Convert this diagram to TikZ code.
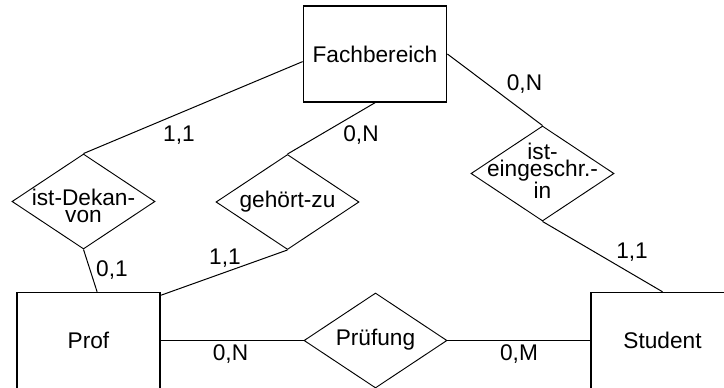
\documentclass[tikz,border=0pt]{standalone}
\usepackage{fontspec}
\setmainfont{Liberation Sans}
\usetikzlibrary{shapes.geometric}

\begin{document}
\begin{tikzpicture}[x=0.75pt,y=0.75pt,yscale=-1,xscale=1,
	entity/.style={draw, line width=1.1pt, minimum width=107.5pt, minimum height=72pt, inner sep=0pt, font=\fontsize{17}{20}\selectfont},
	relation/.style={draw, diamond, line width=0.7pt, minimum width=107.25pt, minimum height=71.25pt, inner sep=0pt},
	reltext/.style={align=center, inner sep=0pt, font=\fontsize{17}{12.5}\selectfont},
	card/.style={inner sep=0pt, font=\fontsize{17}{20}\selectfont},
	link/.style={line width=0.75pt}]
	%set diagram left start at 0, and has height of 388
	\useasboundingbox (0,0) rectangle (724,388);
	\clip (0,0) rectangle (724,388);
	
	%Shape: Rectangle [entities]
	\node[entity] (fach) at (375,54) {Fachbereich};
	\node[entity] (prof) at (88.5,340.5) {Prof};
	\node[entity] (student) at (662.5,340.5) {Student};
	
	%Shape: Diamond [relations]
	\node[relation] (dekan) at (83.5,201.5) {};
	\node[relation] (gehoert) at (287.5,202) {};
	\node[relation] (eingeschr) at (542.5,173.5) {};
	\node[relation] (pruefung) at (375.5,340.5) {};
	
	% Text Node
	\node[reltext] (dekantext) at (83.5,206) {ist-Dekan-\\von};
	% Text Node
	\node[reltext] (gehoerttext) at (287.5,202) {gehört-zu};
	% Text Node
	\node[reltext] (eingeschrtext) at (542.5,171) {ist-\\eingeschr.-\\in};
	% Text Node
	\node[reltext] (pruefungtext) at (375.5,340) {Prüfung};
	
	%Straight Lines
	\draw[link] (fach.186) -- (dekan.north);
	\draw[link] (fach.south) -- (gehoert.north);
	\draw[link] (fach.east) -- (eingeschr.north);
	\draw[link] (dekan.south) -- (prof.80);
	\draw[link] (gehoert.south) -- (prof.32);
	\draw[link] (eingeschr.south) -- (student.north);
	\draw[link] (prof.east) -- (pruefung.west);
	\draw[link] (pruefung.east) -- (student.west);
	
	% Text Node
	\node[card] (c1) at (179,135) {1,1};
	% Text Node
	\node[card] (c2) at (361,135) {0,N};
	% Text Node
	\node[card] (c3) at (524.5,84) {0,N};
	% Text Node
	\node[card] (c4) at (112,270) {0,1};
	% Text Node
	\node[card] (c5) at (225,258) {1,1};
	% Text Node
	\node[card] (c6) at (632,252) {1,1};
	% Text Node
	\node[card] (c7) at (230.5,354) {0,N};
	% Text Node
	\node[card] (c8) at (519,354) {0,M};
	
\end{tikzpicture}
\end{document}
